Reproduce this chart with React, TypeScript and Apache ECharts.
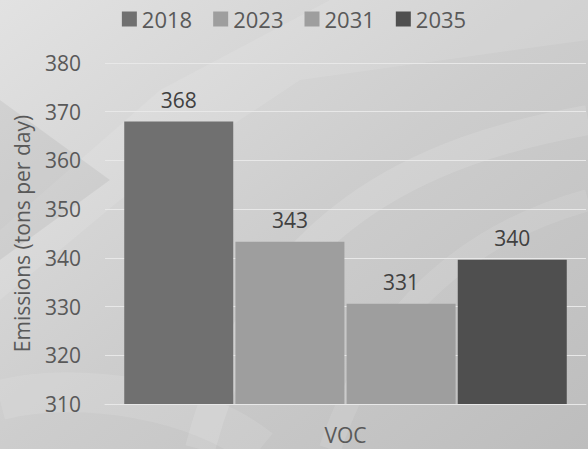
import React, { useEffect, useRef } from "react";
import * as echarts from "echarts";

const categories = ["VOC"];
const seriesNames = ["2018", "2023", "2031", "2035"];
const v2018 = [368];
const v2023 = [343.3];
const v2031 = [330.6];
const v2035 = [339.6];
const seriesColors = ["#707070", "#9e9e9e", "#9e9e9e", "#4f4f4f"];
const yMin = 310;
const yMax = 380;
const yInterval = 10;

const FONT = "Open Sans";

export default function App() {
  const ref = useRef<HTMLDivElement>(null);
  useEffect(() => {
    document.body.style.margin = "0";
    if (!ref.current) return;
    const chart = echarts.init(ref.current, null, { renderer: "svg" });
    const values = [v2018, v2023, v2031, v2035];
    const option: any = {
      animation: false,
      backgroundColor: {
        type: "linear", x: 0, y: 0, x2: 1, y2: 1,
        colorStops: [
          { offset: 0, color: "#e2e2e2" },
          { offset: 0.5, color: "#cdcdcd" },
          { offset: 1, color: "#bdbdbd" },
        ],
      },
      graphic: [
        { type: "polygon", z: -10, silent: true, shape: { points: [[0, 230], [160, 90], [330, 0], [588, 0], [588, 40], [300, 80], [120, 200], [0, 300]] }, style: { fill: "rgba(255,255,255,0.10)" } },
        { type: "bezierCurve", z: -10, silent: true, shape: { x1: 200, y1: 449, x2: 588, y2: 120, cpx1: 260, cpy1: 220, cpx2: 420, cpy2: 150 }, style: { stroke: "rgba(255,255,255,0.12)", lineWidth: 30, fill: "none" } },
        { type: "bezierCurve", z: -10, silent: true, shape: { x1: 330, y1: 449, x2: 588, y2: 200, cpx1: 380, cpy1: 300, cpx2: 480, cpy2: 230 }, style: { stroke: "rgba(255,255,255,0.10)", lineWidth: 22, fill: "none" } },
        { type: "bezierCurve", z: -10, silent: true, shape: { x1: 0, y1: 400, x2: 260, y2: 449, cpx1: 80, cpy1: 380, cpx2: 200, cpy2: 400 }, style: { stroke: "rgba(255,255,255,0.10)", lineWidth: 40, fill: "none" } },
        { type: "polygon", z: -10, silent: true, shape: { points: [[0, 100], [110, 180], [0, 260]] }, style: { fill: "rgba(0,0,0,0.05)" } },
      ],
      legend: {
        top: 3,
        left: "center",
        itemWidth: 15,
        itemHeight: 15,
        itemGap: 21,
        icon: "rect",
        textStyle: { fontFamily: FONT, fontSize: 22, color: "#595959" },
        data: seriesNames,
      },
      grid: { left: 105, right: 2, top: 63, bottom: 45, containLabel: false },
      xAxis: {
        type: "category",
        data: categories,
        axisLine: { show: true, lineStyle: { color: "#e8e8e8", width: 1 } },
        axisTick: { show: false },
        axisLabel: { fontFamily: FONT, fontSize: 21, color: "#595959", margin: 20 },
      },
      yAxis: {
        type: "value",
        min: yMin,
        max: yMax,
        interval: yInterval,
        name: "Emissions (tons per day)",
        nameLocation: "middle",
        nameGap: 73,
        nameTextStyle: { fontFamily: FONT, fontSize: 21, color: "#595959" },
        axisLine: { show: false },
        axisTick: { show: false },
        axisLabel: { fontFamily: FONT, fontSize: 21, color: "#595959", margin: 24 },
        splitLine: { lineStyle: { color: "#e8e8e8", width: 1 } },
      },
      series: seriesNames.map((n, i) => ({
        name: n,
        type: "bar",
        data: values[i],
        barGap: "2%",
        barCategoryGap: "8%",
        itemStyle: { color: seriesColors[i] },
        label: {
          show: true,
          position: "top",
          distance: 11,
          fontFamily: FONT,
          fontSize: 21,
          color: "#404040",
          formatter: (p: any) => String(Math.round(p.value)),
        },
      })),
    };
    chart.setOption(option);
    return () => chart.dispose();
  }, []);
  return <div ref={ref} style={{ width: 588, height: 449 }} />;
}
